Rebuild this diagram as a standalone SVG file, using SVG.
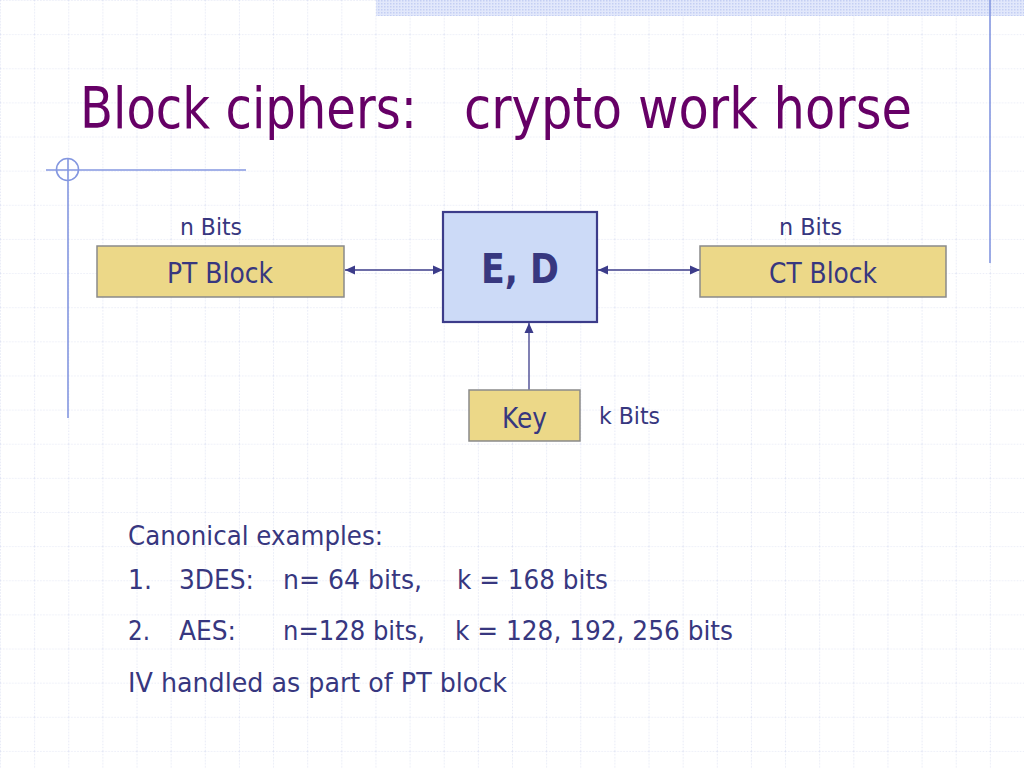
<svg xmlns="http://www.w3.org/2000/svg" width="1024" height="768" viewBox="0 0 1024 768">
<defs>
<style>
.t{font-family:"DejaVu Sans","Liberation Sans",sans-serif;fill:#37377f}
.s23{font-size:23px}
.s28{font-size:28px}
.s27{font-size:27px}
.ttl{font-family:"DejaVu Sans","Liberation Sans",sans-serif;font-size:57px;fill:#660066}
.box{fill:#ecd888;stroke:#8a8a8a;stroke-width:1.5}
.ed{fill:#ccdaf7;stroke:#3c3c8a;stroke-width:2.2}
.con{stroke:#3c3c8a;stroke-width:1.3;fill:none}
.deco{stroke:#8497e0;stroke-width:1.6;fill:none}
</style>
<pattern id="grid" patternUnits="userSpaceOnUse" width="34.1333" height="34.1333">
<path d="M0 0V34.1333M0 0H34.1333" stroke="#d6dbf0" stroke-width="1.2" stroke-dasharray="1.5 1.5" fill="none"/>
</pattern>
<pattern id="dots" patternUnits="userSpaceOnUse" width="3" height="3">
<rect width="3" height="3" fill="#e2e8fb"/>
<rect width="1.5" height="1.5" fill="#c4cff3"/>
</pattern>
<marker id="ah" viewBox="0 0 10 10" refX="10" refY="5" markerWidth="10" markerHeight="10" markerUnits="userSpaceOnUse" orient="auto-start-reverse">
<path d="M0 0.5L10 5L0 9.5z" fill="#3c3c8a"/>
</marker>
</defs>
<rect width="1024" height="768" fill="#ffffff"/>
<rect width="1024" height="768" fill="url(#grid)"/>
<rect x="376" y="0" width="648" height="16" fill="url(#dots)"/>
<g id="decoration">
<line class="deco" x1="990" y1="0" x2="990" y2="263"/>
<line class="deco" x1="46" y1="170" x2="246" y2="170"/>
<line class="deco" x1="68" y1="158" x2="68" y2="418"/>
<circle class="deco" cx="67.5" cy="169.5" r="11"/>
</g>
<g id="title">
<text class="ttl" x="80" y="128" textLength="337" lengthAdjust="spacingAndGlyphs">Block ciphers:</text>
<text class="ttl" x="464" y="128" textLength="448" lengthAdjust="spacingAndGlyphs">crypto work horse</text>
</g>
<g id="connectors">
<line class="con" x1="345" y1="270" x2="443" y2="270" marker-start="url(#ah)" marker-end="url(#ah)"/>
<line class="con" x1="598" y1="270" x2="700" y2="270" marker-start="url(#ah)" marker-end="url(#ah)"/>
<line class="con" x1="529" y1="390" x2="529" y2="323" marker-end="url(#ah)"/>
</g>
<g id="pt">
<text class="t s23" x="180" y="235" textLength="62" lengthAdjust="spacingAndGlyphs">n Bits</text>
<rect class="box" x="97" y="246" width="247" height="51"/>
<text class="t s28" x="167" y="283" textLength="106" lengthAdjust="spacingAndGlyphs">PT Block</text>
</g>
<g id="ed">
<rect class="ed" x="443" y="212" width="154" height="110"/>
<text class="t" x="481" y="283" font-size="40" font-weight="bold" textLength="78" lengthAdjust="spacingAndGlyphs">E, D</text>
</g>
<g id="ct">
<text class="t s23" x="779" y="235" textLength="63" lengthAdjust="spacingAndGlyphs">n Bits</text>
<rect class="box" x="700" y="246" width="246" height="51"/>
<text class="t s28" x="769" y="283" textLength="108" lengthAdjust="spacingAndGlyphs">CT Block</text>
</g>
<g id="key">
<rect class="box" x="469" y="390" width="111" height="51"/>
<text class="t s28" x="502" y="428" textLength="45" lengthAdjust="spacingAndGlyphs">Key</text>
<text class="t s23" x="599" y="424" textLength="61" lengthAdjust="spacingAndGlyphs">k Bits</text>
</g>
<g id="examples">
<text class="t s27" x="128" y="545" textLength="255" lengthAdjust="spacingAndGlyphs">Canonical examples:</text>
<text class="t s27" x="128" y="589" textLength="24" lengthAdjust="spacingAndGlyphs">1.</text>
<text class="t s27" x="179" y="589" textLength="75" lengthAdjust="spacingAndGlyphs">3DES:</text>
<text class="t s27" x="283" y="589" textLength="139" lengthAdjust="spacingAndGlyphs">n= 64 bits,</text>
<text class="t s27" x="457" y="589" textLength="151" lengthAdjust="spacingAndGlyphs">k = 168 bits</text>
<text class="t s27" x="128" y="640" textLength="22" lengthAdjust="spacingAndGlyphs">2.</text>
<text class="t s27" x="179" y="640" textLength="57" lengthAdjust="spacingAndGlyphs">AES:</text>
<text class="t s27" x="283" y="640" textLength="142" lengthAdjust="spacingAndGlyphs">n=128 bits,</text>
<text class="t s27" x="455" y="640" textLength="278" lengthAdjust="spacingAndGlyphs">k = 128, 192, 256 bits</text>
<text class="t s27" x="128" y="692" textLength="379" lengthAdjust="spacingAndGlyphs">IV handled as part of PT block</text>
</g>
</svg>
